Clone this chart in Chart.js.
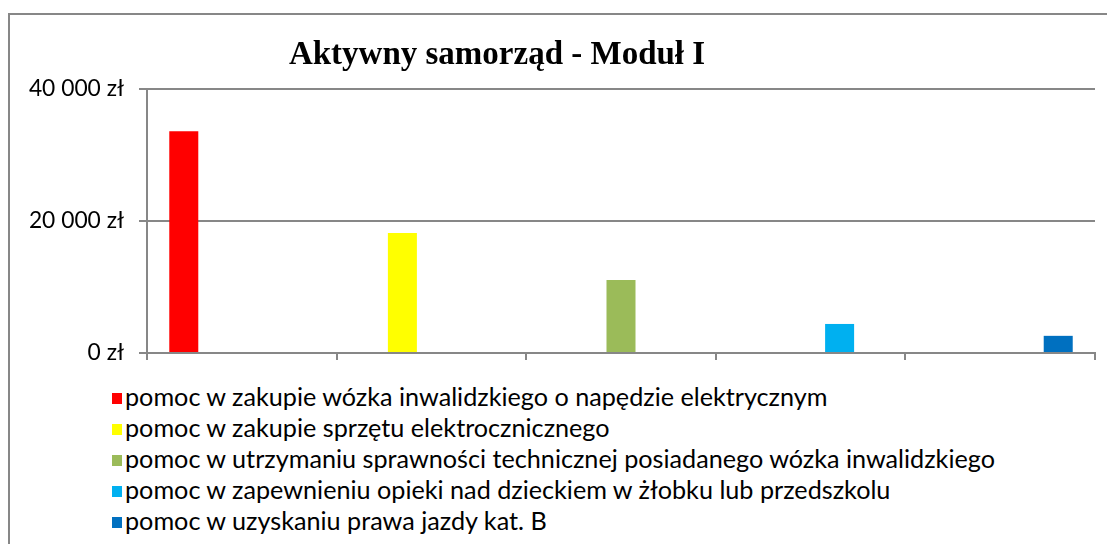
<!DOCTYPE html>
<html>
<head>
<meta charset="utf-8">
<script src="https://cdn.jsdelivr.net/npm/chart.js@4/dist/chart.umd.min.js"></script>
<style>
  html, body { margin: 0; padding: 0; background: #fff; width: 1107px; height: 544px; overflow: hidden; }
  #frame { position: absolute; left: 8px; top: 13px; width: 1200px; height: 600px; border: 2px solid #878787; box-sizing: border-box; }
  #wrap { position: absolute; left: 0; top: 0; width: 1107px; height: 380px; }
  #legend { position: absolute; left: 112px; top: 381px; font-family: Lato, sans-serif; font-size: 25.2px; color: #000; }
  #legend div { height: 31px; line-height: 31px; white-space: nowrap; }
  #legend span.box { display: inline-block; width: 10px; height: 11px; margin-right: 3px; vertical-align: middle; position: relative; top: -1px; }
</style>
</head>
<body>
<div id="frame"></div>
<div id="wrap"><canvas id="c" width="1107" height="380"></canvas></div>
<div id="legend"></div>
<script>
const titleText = 'Aktywny samorząd - Moduł I';
const seriesNames = [
  'pomoc w zakupie wózka inwalidzkiego o napędzie elektrycznym',
  'pomoc w zakupie sprzętu elektrocznicznego',
  'pomoc w utrzymaniu sprawności technicznej posiadanego wózka inwalidzkiego',
  'pomoc w zapewnieniu opieki nad dzieckiem w żłobku lub przedszkolu',
  'pomoc w uzyskaniu prawa jazdy kat. B'
];
const seriesValues = [33600, 18200, 11060, 4400, 2600];
const seriesColors = ['#FF0000', '#FFFF00', '#9BBB59', '#00B0F0', '#0070C0'];
const categories = ['', '', '', '', ''];
const yTicks = [0, 20000, 40000];

function fmt(v) {
  return String(v).replace(/\B(?=(\d{3})+(?!\d))/g, ' ') + ' zł';
}

const datasets = seriesNames.map((name, i) => ({
  label: name,
  data: categories.map((_, j) => (j === i ? seriesValues[i] : null)),
  backgroundColor: seriesColors[i],
  borderWidth: 0,
  categoryPercentage: 0.765,
  barPercentage: 1.0
}));

const titlePlugin = {
  id: 'xlTitle',
  afterDraw(chart) {
    const ctx = chart.ctx;
    ctx.save();
    ctx.font = 'bold 33px "Liberation Serif", serif';
    ctx.fillStyle = '#000';
    ctx.textAlign = 'center';
    ctx.textBaseline = 'alphabetic';
    ctx.fillText(titleText, 497, 64);
    ctx.restore();
  }
};

const chart = new Chart(document.getElementById('c'), {
  type: 'bar',
  data: { labels: categories, datasets },
  options: {
    responsive: false,
    animation: false,
    layout: { padding: { top: 89, right: 12, bottom: 17, left: 0 } },
    plugins: { legend: { display: false }, title: { display: false }, tooltip: { enabled: false } },
    scales: {
      x: {
        offset: true,
        ticks: { display: false },
        grid: { display: true, drawOnChartArea: false, drawTicks: true, tickLength: 7, color: '#878787', lineWidth: 2, offset: true },
        border: { display: true, color: '#878787', width: 2 },
        afterFit(axis) { axis.height = 10; axis.paddingLeft = 0; axis.paddingRight = 0; }
      },
      y: {
        min: 0, max: 40000,
        afterBuildTicks(axis) { axis.ticks = yTicks.map(v => ({ value: v })); },
        ticks: { callback: v => fmt(v), font: { family: 'Lato', size: 22.8 }, color: '#000', padding: 15 },
        grid: { color: '#878787', lineWidth: 2, tickLength: 8 },
        border: { display: true, color: '#878787', width: 2 },
        afterFit(axis) { axis.width = 147; axis.paddingTop = 0; axis.paddingBottom = 0; }
      }
    }
  },
  plugins: [titlePlugin]
});

const legend = document.getElementById('legend');
seriesNames.forEach((name, i) => {
  const row = document.createElement('div');
  const box = document.createElement('span');
  box.className = 'box';
  box.style.background = seriesColors[i];
  row.appendChild(box);
  row.appendChild(document.createTextNode(name));
  legend.appendChild(row);
});
</script>
</body>
</html>
